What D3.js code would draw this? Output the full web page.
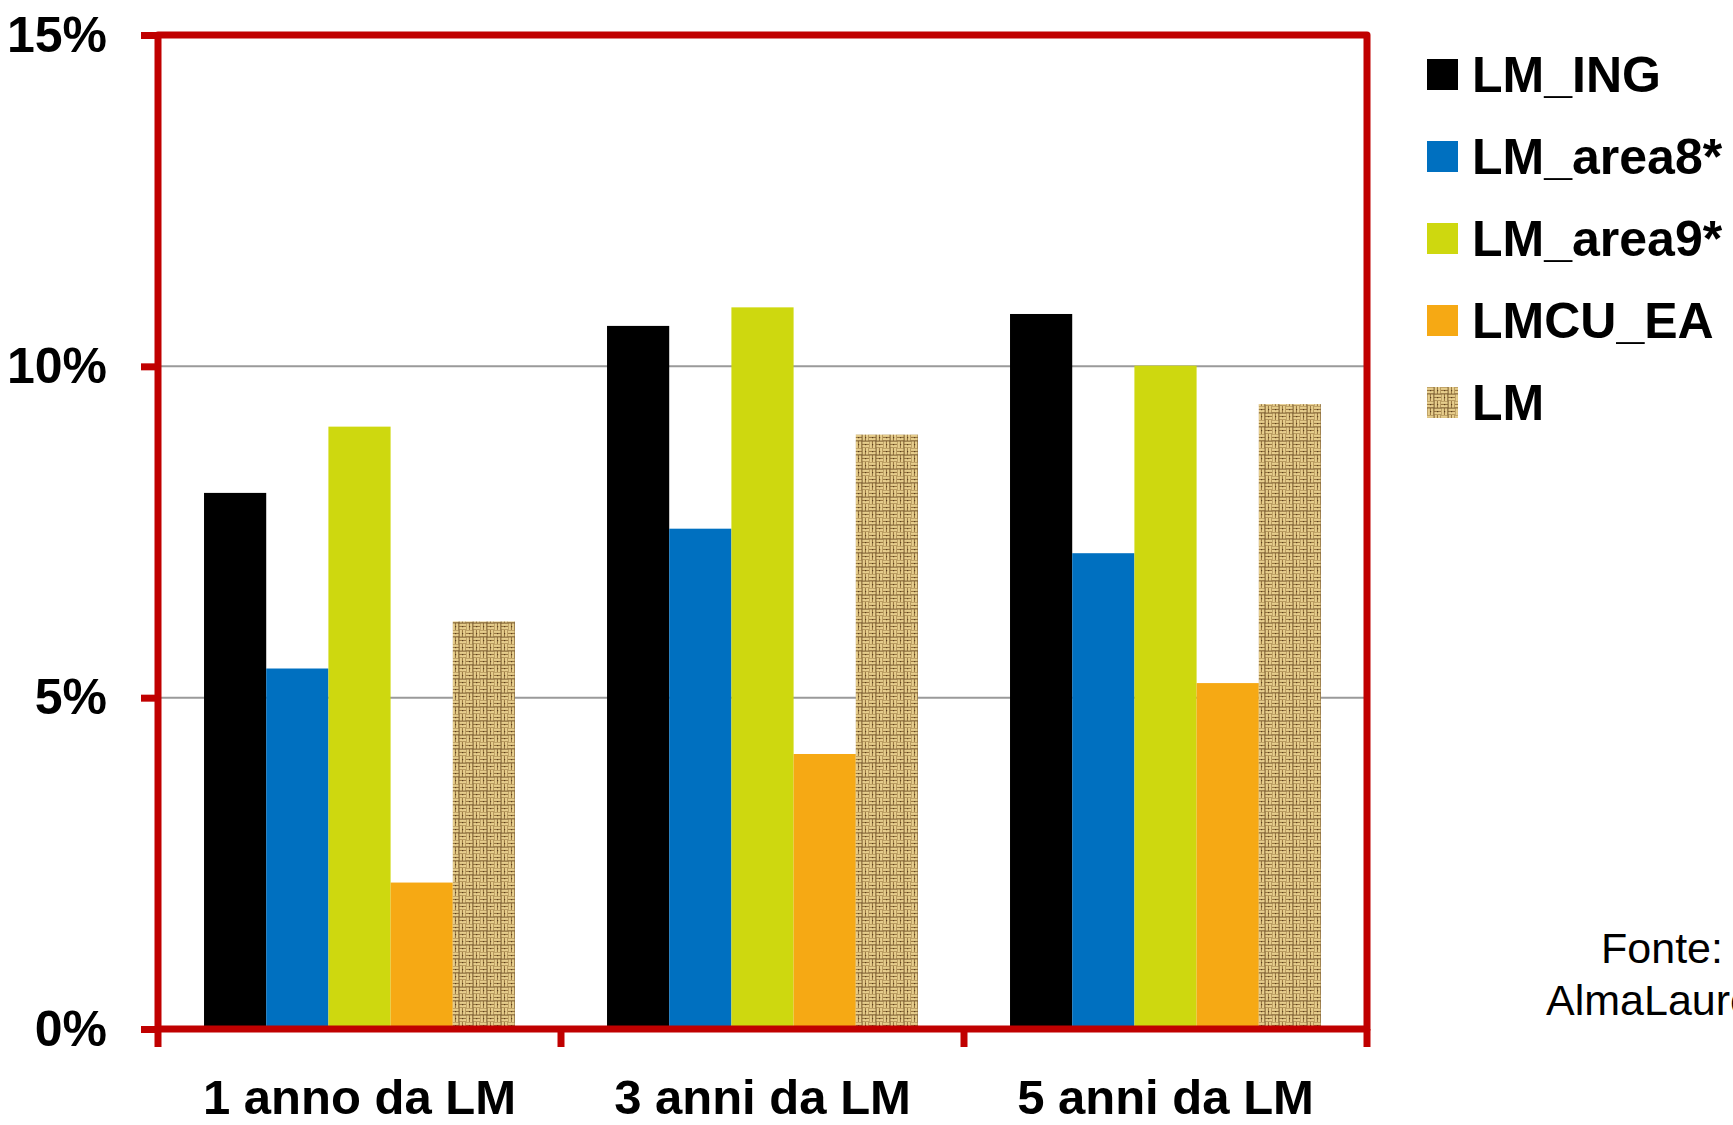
<!DOCTYPE html>
<html lang="it">
<head>
    <meta charset="UTF-8">
    <title>LM - grafico</title>
    <style>
        body, html {
            margin: 0;
            padding: 0;
            background-color: #ffffff;
            font-family: "Liberation Sans", Arial, sans-serif;
        }
        #svg { display: block; }
    </style>
</head>
<body>
    <svg id="svg" width="1733" height="1125"></svg>
    <script src="https://d3js.org/d3.v7.min.js"></script>
    <script>
        // data (percent)
        const categories = ["1 anno da LM", "3 anni da LM", "5 anni da LM"]
        const series = ["LM_ING", "LM_area8*", "LM_area9*", "LMCU_EA", "LM"]
        const lmIng = [8.09, 10.61, 10.79]
        const lmArea8 = [5.44, 7.55, 7.18]
        const lmArea9 = [9.09, 10.89, 10.01]
        const lmcuEa = [2.21, 4.15, 5.22]
        const lm = [6.15, 8.97, 9.43]
        const yTicks = [0, 5, 10, 15]
        const source = ["Fonte:", "AlmaLaurea"]

        const values = [lmIng, lmArea8, lmArea9, lmcuEa, lm]
        const colors = ["#000000", "#0070c0", "#ced80f", "#f6a914", "url(#burlap)"]

        const plot = { left: 158, right: 1367, top: 35, bottom: 1029 }
        const red = "#c00000"

        const svg = d3.select('#svg')

        // burlap texture for the LM series
        const defs = svg.append('defs')
        const pat = defs.append('pattern')
            .attr('id', 'burlap')
            .attr('patternUnits', 'userSpaceOnUse')
            .attr('width', 14).attr('height', 14)
        pat.append('rect').attr('width', 14).attr('height', 14).attr('fill', '#9c7a43')
        // basket weave: horizontal threads in two quadrants, vertical in the other two
        const threads = [
            [0, 0, 'h'], [7, 0, 'v'], [0, 7, 'v'], [7, 7, 'h']
        ]
        threads.forEach(([qx, qy, dir]) => {
            for (let k = 0; k < 2; k++) {
                if (dir === 'h') {
                    pat.append('rect').attr('x', qx).attr('y', qy + k * 3.5 + 0.5)
                        .attr('width', 7).attr('height', 2.4).attr('fill', '#e6cd8c')
                } else {
                    pat.append('rect').attr('x', qx + k * 3.5 + 0.5).attr('y', qy)
                        .attr('width', 2.4).attr('height', 7).attr('fill', '#e6cd8c')
                }
            }
            pat.append('rect').attr('x', qx + 3).attr('y', qy + 3)
                .attr('width', 1.2).attr('height', 1.2).attr('fill', '#5a4020')
        })
        pat.append('rect').attr('x', 6.5).attr('y', 0).attr('width', 1).attr('height', 14)
            .attr('fill', '#6f532a').attr('opacity', 0.7)
        pat.append('rect').attr('x', 0).attr('y', 6.5).attr('width', 14).attr('height', 1)
            .attr('fill', '#6f532a').attr('opacity', 0.7)

        // scales
        const x0 = d3.scaleBand()
            .domain(categories)
            .range([plot.left, plot.right])
            .padding(0)

        const x1 = d3.scaleBand()
            .domain(series)
            .range([0, x0.bandwidth()])
            .paddingInner(0)
            .paddingOuter(0.74)

        const y = d3.scaleLinear()
            .domain([0, 15])
            .range([plot.bottom, plot.top])

        // gridlines
        svg.append('g')
            .selectAll('line')
            .data(yTicks.filter(d => d > 0 && d < 15))
            .enter()
            .append('line')
            .attr('x1', plot.left)
            .attr('x2', plot.right)
            .attr('y1', d => y(d))
            .attr('y2', d => y(d))
            .attr('stroke', '#9a9a9a')
            .attr('stroke-width', 2)

        // bars
        const groups = svg.append('g')
            .selectAll('g')
            .data(categories)
            .enter()
            .append('g')
            .attr('transform', d => `translate(${x0(d)}, 0)`)

        groups.selectAll('rect')
            .data((c, ci) => series.map((s, si) => ({ s, si, v: values[si][ci] })))
            .enter()
            .append('rect')
            .attr('x', d => x1(d.s))
            .attr('y', d => y(d.v))
            .attr('width', x1.bandwidth())
            .attr('height', d => y(0) - y(d.v))
            .attr('fill', d => colors[d.si])

        // left axis with ticks and labels
        const leftAxis = d3.axisLeft(y)
            .tickValues(yTicks)
            .tickSize(17)
            .tickPadding(34)
            .tickFormat(d => d + '%')
        const gl = svg.append('g')
            .attr('transform', `translate(${plot.left}, 0)`)
            .call(leftAxis)
        gl.select('.domain').remove()
        gl.selectAll('line').attr('stroke', red).attr('stroke-width', 7)
        gl.selectAll('text')
            .attr('font-family', '"Liberation Sans", Arial, sans-serif')
            .attr('font-size', '50px')
            .attr('font-weight', 'bold')
            .attr('fill', '#000')

        // bottom axis labels
        const bottomAxis = d3.axisBottom(x0).tickSize(0).tickPadding(50)
        const gb = svg.append('g')
            .attr('transform', `translate(0, ${plot.bottom})`)
            .call(bottomAxis)
        gb.select('.domain').remove()
        gb.selectAll('text')
            .attr('font-family', '"Liberation Sans", Arial, sans-serif')
            .attr('font-size', '49px')
            .attr('font-weight', 'bold')
            .attr('fill', '#000')

        // bottom tick marks at the category boundaries
        const bounds = categories.map(c => x0(c)).concat([x0.range()[1]])
        svg.append('g')
            .selectAll('line')
            .data(bounds)
            .enter()
            .append('line')
            .attr('x1', d => d).attr('x2', d => d)
            .attr('y1', plot.bottom).attr('y2', plot.bottom + 18)
            .attr('stroke', red).attr('stroke-width', 7)

        // red frame
        svg.append('path')
            .attr('d', `M${plot.left},${plot.bottom} L${plot.left},${plot.top} L${plot.right},${plot.top} L${plot.right},${plot.bottom} Z`)
            .attr('fill', 'none')
            .attr('stroke', red)
            .attr('stroke-width', 7)
            .attr('stroke-linejoin', 'round')

        // legend
        const legend = svg.append('g')
            .attr('transform', 'translate(1427, 59)')
        const items = legend.selectAll('g')
            .data(series)
            .enter()
            .append('g')
            .attr('transform', (d, i) => `translate(0, ${i * 82})`)
        items.append('rect')
            .attr('width', 31)
            .attr('height', 31)
            .attr('fill', (d, i) => colors[i])
        items.append('text')
            .attr('x', 45)
            .attr('y', 33)
            .attr('font-family', '"Liberation Sans", Arial, sans-serif')
            .attr('font-size', '50px')
            .attr('font-weight', 'bold')
            .attr('fill', '#000')
            .text(d => d)

        // source note
        svg.append('g')
            .selectAll('text')
            .data(source)
            .enter()
            .append('text')
            .attr('x', 1662)
            .attr('y', (d, i) => 963 + i * 52)
            .attr('text-anchor', 'middle')
            .attr('font-family', '"Liberation Sans", Arial, sans-serif')
            .attr('font-size', '43px')
            .attr('fill', '#000')
            .text(d => d)
    </script>
</body>
</html>
